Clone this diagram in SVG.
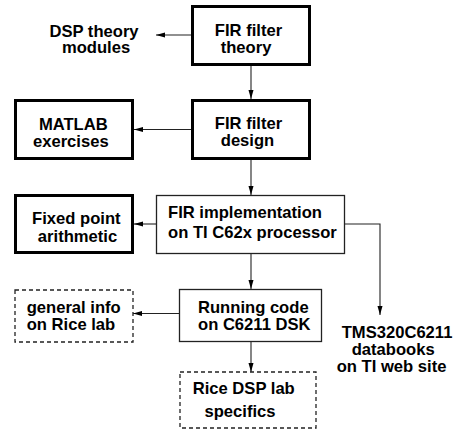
<svg xmlns="http://www.w3.org/2000/svg" width="457" height="433" viewBox="0 0 457 433">
<style>
text{font-family:"Liberation Sans",Arial,sans-serif;font-weight:bold;font-size:16.6px;fill:#000}
.thick{fill:#fff;stroke:#000;stroke-width:3}
.thin{fill:#fff;stroke:#222;stroke-width:1.3}
.dash{fill:#fff;stroke:#222;stroke-width:1.3;stroke-dasharray:4,3}
.c{text-anchor:middle}
.conn{fill:none;stroke:#222;stroke-width:1.1;marker-end:url(#ah)}
</style>
<defs>
<marker id="ah" markerUnits="userSpaceOnUse" markerWidth="10" markerHeight="6" refX="9" refY="2.5" orient="auto">
<path d="M0,0 L9,2.5 L0,5 z" fill="#000"/>
</marker>
</defs>
<g id="connectors">
<path class="conn" d="M191,35 H156"/>
<path class="conn" d="M251,66 V99"/>
<path class="conn" d="M191,129.5 H134"/>
<path class="conn" d="M251,160 V195"/>
<path class="conn" d="M156,224 H134"/>
<path class="conn" d="M345,224 H380 V315"/>
<path class="conn" d="M251,254 V289"/>
<path class="conn" d="M179,313.5 H133"/>
<path class="conn" d="M251,342 V372"/>
</g>
<g id="dsp-theory">
<text class="c" x="94" y="37">DSP theory</text>
<text class="c" x="96" y="53">modules</text>
</g>
<g id="fir-theory">
<rect class="thick" x="192.5" y="6.5" width="117" height="58"/>
<text class="c" x="248.5" y="36">FIR filter</text>
<text class="c" x="246" y="53">theory</text>
</g>
<g id="fir-design">
<rect class="thick" x="192.5" y="100.5" width="117" height="58"/>
<text class="c" x="248.5" y="129">FIR filter</text>
<text class="c" x="247.5" y="146">design</text>
</g>
<g id="matlab">
<rect class="thick" x="15.5" y="100.5" width="117" height="58"/>
<text class="c" x="73.3" y="130">MATLAB</text>
<text class="c" x="70.8" y="147">exercises</text>
</g>
<g id="fixed-point">
<rect class="thick" x="15.5" y="195.5" width="117" height="57"/>
<text class="c" x="76.3" y="224">Fixed point</text>
<text class="c" x="77.5" y="241.5">arithmetic</text>
</g>
<g id="fir-impl">
<rect class="thin" x="156.5" y="195.5" width="188" height="58"/>
<text x="168" y="218">FIR implementation</text>
<text x="168" y="238">on TI C62x processor</text>
</g>
<g id="running-code">
<rect class="thin" x="179.5" y="289.5" width="142" height="52"/>
<text x="198" y="313">Running code</text>
<text x="198" y="330">on C6211 DSK</text>
</g>
<g id="general-info">
<rect class="dash" x="15" y="290" width="118" height="52"/>
<text x="26.7" y="312.7">general info</text>
<text x="26.7" y="330">on Rice lab</text>
</g>
<g id="rice-specifics">
<rect class="dash" x="180" y="372" width="136" height="56"/>
<text x="192.7" y="394">Rice DSP lab</text>
<text x="204.5" y="417">specifics</text>
</g>
<g id="tms-databooks">
<text x="341.7" y="337.7">TMS320C6211</text>
<text x="351.7" y="355">databooks</text>
<text x="336.7" y="372">on TI web site</text>
</g>
</svg>
